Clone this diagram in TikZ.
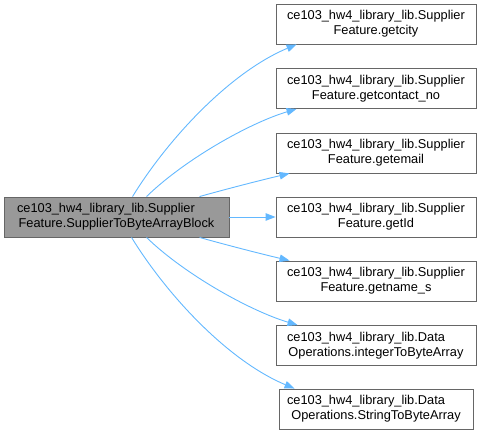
\documentclass[tikz,border=0pt]{standalone}
\usepackage{fontspec}
\setmainfont{Liberation Sans}
\usetikzlibrary{arrows.meta,calc}
\definecolor{edgeblue}{HTML}{63B8FF}
\definecolor{boxline}{HTML}{666666}
\definecolor{boxfill}{HTML}{999999}
\newcommand{\firstln}[1]{\makebox[\linewidth][l]{#1}}
\begin{document}
\begin{tikzpicture}[x=1pt,y=-1pt,
  fn/.style={draw=boxline,line width=0.9pt,fill=white,minimum height=40pt,inner ysep=0pt,
    align=center,font=\fontsize{12.8}{15}\selectfont},
  rbox/.style={fn,text width=178pt,inner xsep=11pt},
  callee/.style={draw=edgeblue,line width=0.9pt,-{Triangle[length=10pt,width=7.5pt]}}]
\useasboundingbox (0,0) rectangle (481,435);
\node[fn,fill=boxfill,text width=199pt,inner xsep=13pt] (L) at (116.5,217)
  {\firstln{ce103\_hw4\_library\_lib.Supplier}\\Feature.SupplierToByteArrayBlock};
\node[rbox] (n1) at (376,24) {\firstln{ce103\_hw4\_library\_lib.Supplier}\\Feature.getcity};
\node[rbox] (n2) at (376,88.5) {\firstln{ce103\_hw4\_library\_lib.Supplier}\\Feature.getcontact\_no};
\node[rbox] (n3) at (376,153) {\firstln{ce103\_hw4\_library\_lib.Supplier}\\Feature.getemail};
\node[rbox] (n4) at (376,217) {\firstln{ce103\_hw4\_library\_lib.Supplier}\\Feature.getId};
\node[rbox] (n5) at (376,281) {\firstln{ce103\_hw4\_library\_lib.Supplier}\\Feature.getname\_s};
\node[rbox] (n6) at (376,345.5) {\firstln{ce103\_hw4\_library\_lib.Data}\\Operations.integerToByteArray};
\node[fn,text width=178pt,inner xsep=8pt] (n7) at (376,409) {\firstln{ce103\_hw4\_library\_lib.Data}\\Operations.StringToByteArray};
\draw[callee] ($(L.north west)+(129,0)$) .. controls +(35,-57) and +(-67,28) .. ($(n1.south west)+(21,0)$);
\draw[callee] ($(L.north west)+(143,0)$) .. controls +(38,-37) and +(-47,14) .. ($(n2.south west)+(21,0)$);
\draw[callee] ($(L.north west)+(196,0)$) .. controls +(25,-7) and +(-30,7) .. ($(n3.south west)+(14,0)$);
\draw[callee] (L.east) -- (n4.west);
\draw[callee] ($(L.south west)+(196,0)$) .. controls +(25,7) and +(-30,-7) .. ($(n5.north west)+(14,0)$);
\draw[callee] ($(L.south west)+(143,0)$) .. controls +(38,37) and +(-47,-14) .. ($(n6.north west)+(22,0)$);
\draw[callee] ($(L.south west)+(128,0)$) .. controls +(35,57) and +(-67,-28) .. ($(n7.north west)+(16,0)$);
\end{tikzpicture}
\end{document}
